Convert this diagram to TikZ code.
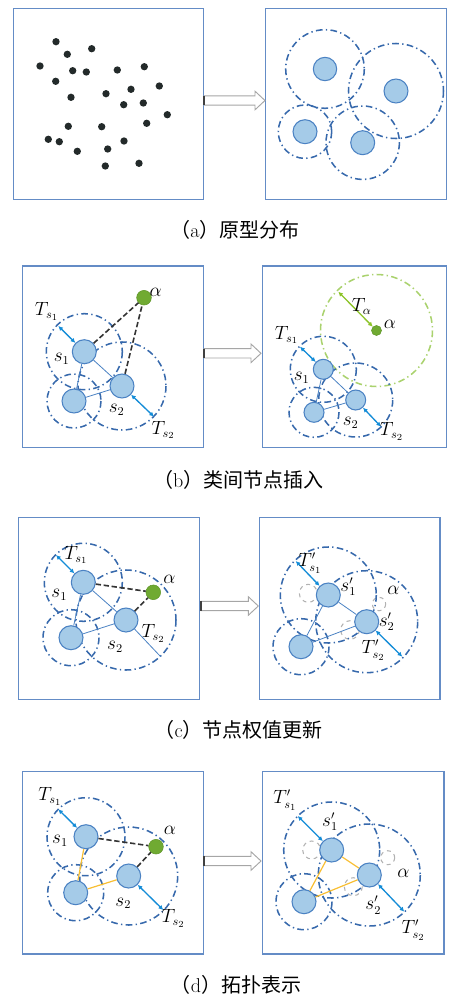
\documentclass[tikz,border=0pt]{standalone}
\usepackage{fontspec}
\usetikzlibrary{arrows.meta}
\newfontfamily\cjk{Noto Sans CJK SC}
\definecolor{boxc}{RGB}{100,140,198}
\definecolor{ddc}{RGB}{55,105,172}
\definecolor{nodef}{RGB}{165,203,232}
\definecolor{nodeb}{RGB}{75,130,195}
\definecolor{tblue}{RGB}{20,140,215}
\definecolor{greenf}{RGB}{112,170,50}
\definecolor{greenb}{RGB}{95,150,40}
\definecolor{garr}{RGB}{140,195,40}
\definecolor{gcirc}{RGB}{170,210,110}
\definecolor{yel}{RGB}{248,190,50}
\definecolor{dotc}{RGB}{35,42,42}
\pgfdeclarelayer{bg}
\pgfsetlayers{bg,main}
\newcommand\panarrow[3]{%
  \draw[gray!70, fill=white, line width=0.7pt] (#1,#3-4.7) -- (#2-10,#3-4.7) -- (#2-10,#3-9.3) -- (#2,#3) -- (#2-10,#3+9.3) -- (#2-10,#3+4.7) -- (#1,#3+4.7) -- cycle;
  \draw[black!75, line width=1pt] (#1,#3-4.7) -- (#1,#3+4.7);}
\tikzset{
  frame/.style={draw=boxc, line width=0.9pt},
  dd/.style={draw=ddc, line width=1.15pt, dash pattern=on 5pt off 2.5pt on 1pt off 2.5pt},
  gdd/.style={draw=gcirc, line width=1.15pt, dash pattern=on 5pt off 2.5pt on 1pt off 2.5pt},
  snode/.style={circle, draw=nodeb, fill=nodef, line width=0.8pt, inner sep=0pt, minimum size=18pt},
  ssnode/.style={snode, minimum size=15pt},
  gnode/.style={circle, fill=greenf, draw=greenb, line width=0.4pt, inner sep=0pt, minimum size=11pt},
  sgnode/.style={gnode, minimum size=7.5pt},
  dot/.style={circle, fill=dotc, inner sep=0pt, minimum size=5.5pt},
  tarr/.style={draw=tblue, line width=1pt, {Latex[length=3.5pt,width=3.5pt]}-{Latex[length=3.5pt,width=3.5pt]}},
  garrow/.style={draw=garr, line width=1pt, {Latex[length=3.5pt,width=3.5pt]}-{Latex[length=3.5pt,width=3.5pt]}},
  bdash/.style={draw=black!80, line width=1.2pt, dash pattern=on 4pt off 2pt},
  bline/.style={draw=nodeb, line width=0.6pt},
  yline/.style={draw=yel, line width=0.9pt},
  gdash/.style={draw=gray!60, dashed, line width=0.8pt},
  lbl/.style={inner sep=0pt, font=\fontsize{13.5}{15}\selectfont},
  captxt/.style={inner sep=0pt, font=\fontsize{15}{18}\selectfont},
}
\begin{document}
\begin{tikzpicture}[x=0.75pt, y=-0.75pt]
\useasboundingbox (0,0) rectangle (449,1003);
% ================= (a) =================
\draw[frame] (13.3,8.3) rectangle (203.3,199.3);
\draw[frame] (265.7,8.3) rectangle (446.5,199.3);
\panarrow{204}{265}{100.5}
\foreach \px/\py [count=\i] in {56/41.7,67.3/54.3,91.7/48.7,40/66,72.7/70.7,86.3/72,117.3/70,144.3/66.7,55.7/81.3,159.3/86,131/89.3,106/93.7,71/97.3,123.7/104.7,143.3/103,167.3/114.7,146.7/123.3,68.3/126.3,101.7/126.7,48.3/139.3,59.3/141.7,124/141,107.7/149,77.3/151.3,105.3/166,139/163.3}
  \node[dot] (p\i) at (\px,\py) {};
\node[snode, minimum size=17.5pt] (a1) at (325,69) {};
\node[snode] (a2) at (396,91) {};
\node[snode] (a3) at (305,131.7) {};
\node[snode] (a4) at (362.7,142.7) {};
\begin{pgfonlayer}{bg}
\draw[dd] (a1) circle[radius=39.3];
\draw[dd] (a2) circle[radius=47.5];
\draw[dd] (a3) circle[radius=26.7];
\draw[dd] (a4) circle[radius=36.7];
\end{pgfonlayer}
\node[captxt] (capa) at (235,230) {{\cjk （}a{\cjk ）原型分布}};
% ================= (b) =================
\draw[frame] (22.3,266) rectangle (203.3,447.3);
\draw[frame] (262.3,266) rectangle (446.7,447.3);
\panarrow{204}{261}{353.3}
\node[snode] (b1) at (84.3,351.7) {};
\node[snode] (b3) at (74,401) {};
\node[snode] (b2) at (122,386) {};
\node[gnode] (ba) at (144,297.7) {};
\coordinate (bt1) at (58.3,326);
\coordinate (bt2) at (154,416.7);
\begin{pgfonlayer}{bg}
\draw[dd] (b1) circle[radius=38];
\draw[dd] (b3) circle[radius=27];
\draw[dd] (b2) circle[radius=44];
\end{pgfonlayer}
\draw[bline] (b1) -- (b3);
\draw[bline] (b1) -- (b2);
\draw[bline] (b3) -- (b2);
\draw[bdash] (b1) -- (ba);
\draw[bdash] (b2) -- (ba);
\draw[tarr] (bt1) -- (b1);
\draw[tarr] (b2) -- (bt2);
\node[lbl] (lb1) at (46.7,311.7) {$T_{s_1}$};
\node[lbl] (lb2) at (61.7,359.3) {$s_1$};
\node[lbl] (lb3) at (116.7,410) {$s_2$};
\node[lbl] (lb4) at (163.3,430) {$T_{s_2}$};
\node[lbl] (lb5) at (155.7,292.7) {$\alpha$};
% right (b)
\node[ssnode] (rb1) at (323.3,369.3) {};
\node[ssnode] (rb3) at (314,412.3) {};
\node[ssnode] (rb2) at (355.7,400) {};
\node[sgnode] (rba) at (376.5,330.5) {};
\coordinate (rbt1) at (300,346.7);
\coordinate (rbt2) at (381,426.7);
\coordinate (rbta) at (338.3,291.7);
\begin{pgfonlayer}{bg}
\draw[gdd] (rba) circle[radius=56];
\draw[dd] (rb1) circle[radius=33];
\draw[dd] (rb3) circle[radius=25];
\draw[dd] (rb2) circle[radius=37];
\end{pgfonlayer}
\draw[bline] (rb1) -- (rb3);
\draw[bline] (rb1) -- (rb2);
\draw[bline] (rb3) -- (rb2);
\draw[tarr] (rbt1) -- (rb1);
\draw[tarr] (rb2) -- (rbt2);
\draw[garrow] (rbta) -- (rba);
\node[lbl] (rlb1) at (286.7,335) {$T_{s_1}$};
\node[lbl] (rlb2) at (301.7,378.3) {$s_1$};
\node[lbl] (rlb3) at (350.7,423.3) {$s_2$};
\node[lbl] (rlb4) at (391.7,431.7) {$T_{s_2}$};
\node[lbl] (rlb5) at (361.7,306.7) {$T_\alpha$};
\node[lbl] (rlb6) at (390,324) {$\alpha$};
\node[captxt] (capb) at (238.3,480) {{\cjk （}b{\cjk ）类间节点插入}};
% ================= (c) =================
\draw[frame] (18.3,517.3) rectangle (199.3,699.3);
\draw[frame] (259.3,517.3) rectangle (440,699.3);
\panarrow{201}{258.3}{606}
\node[snode] (c1) at (83.3,582.3) {};
\node[snode] (c3) at (71,637.7) {};
\node[snode] (c2) at (126,620) {};
\node[gnode] (ca) at (153.3,592.3) {};
\coordinate (ct1) at (56,555);
\coordinate (ct2) at (160.7,656.7);
\begin{pgfonlayer}{bg}
\draw[dd] (c1) circle[radius=39];
\draw[dd] (c3) circle[radius=28];
\draw[dd] (c2) circle[radius=50];
\end{pgfonlayer}
\draw[bline] (c1) -- (c3);
\draw[bline] (c1) -- (c2);
\draw[bline] (c3) -- (c2);
\draw[bline] (c2) -- (ct2);
\draw[bdash] (c1) -- (ca);
\draw[bdash] (c2) -- (ca);
\draw[tarr] (ct1) -- (c1);
\node[lbl] (lc1) at (76,555) {$T_{s_1}$};
\node[lbl] (lc2) at (59.3,595) {$s_1$};
\node[lbl] (lc3) at (169.3,579.3) {$\alpha$};
\node[lbl] (lc4) at (153.3,633.3) {$T_{s_2}$};
\node[lbl] (lc5) at (115,646.7) {$s_2$};
% right (c)
\node[snode] (rc1) at (328.3,595) {};
\node[snode] (rc3) at (301,646.7) {};
\node[snode] (rc2) at (366.7,621.7) {};
\coordinate (rct1) at (295.7,561);
\coordinate (rct2) at (402.3,656.7);
\begin{pgfonlayer}{bg}
\draw[gdash] (308.3,593.3) circle[radius=9];
\draw[gdash] (379,604) circle[radius=6.7];
\draw[gdash] (350,630) circle[radius=9.3];
\draw[dd] (rc1) circle[radius=48];
\draw[dd] (rc3) circle[radius=28];
\draw[dd] (rc2) circle[radius=51];
\end{pgfonlayer}
\draw[bline] (rc1) -- (rc3);
\draw[bline] (rc1) -- (rc2);
\draw[bline] (rc3) -- (rc2);
\draw[tarr] (rct1) -- (rc1);
\draw[tarr] (rc2) -- (rct2);
\node[lbl] (rlc1) at (310,563.3) {$T'_{s_1}$};
\node[lbl] (rlc2) at (348.3,586.7) {$s'_1$};
\node[lbl] (rlc3) at (393.3,590) {$\alpha$};
\node[lbl] (rlc4) at (386.7,621.7) {$s'_2$};
\node[lbl] (rlc5) at (373.3,650) {$T'_{s_2}$};
\node[captxt] (capc) at (238.8,730) {{\cjk （}c{\cjk ）节点权值更新}};
% ================= (d) =================
\draw[frame] (22.7,771.7) rectangle (203.3,954);
\draw[frame] (262.3,771.7) rectangle (444,954);
\panarrow{204}{261}{861}
\node[snode] (d1) at (86,836.7) {};
\node[snode] (d3) at (75.7,892.7) {};
\node[snode] (d2) at (128.7,876) {};
\node[gnode] (da) at (156,846.7) {};
\coordinate (dt1) at (58.3,809.3);
\coordinate (dt2) at (163.3,910);
\begin{pgfonlayer}{bg}
\draw[dd] (d1) circle[radius=39];
\draw[dd] (d3) circle[radius=28];
\draw[dd] (d2) circle[radius=49];
\end{pgfonlayer}
\draw[yline] (d1) -- (d3);
\draw[yline] (d3) -- (d2);
\draw[bdash] (d1) -- (da);
\draw[bdash] (d2) -- (da);
\draw[tarr] (dt1) -- (d1);
\draw[tarr] (d2) -- (dt2);
\node[lbl] (ld1) at (50,796.7) {$T_{s_1}$};
\node[lbl] (ld2) at (60,840.7) {$s_1$};
\node[lbl] (ld3) at (170,830) {$\alpha$};
\node[lbl] (ld4) at (123.3,903.3) {$s_2$};
\node[lbl] (ld5) at (173.3,918.3) {$T_{s_2}$};
% right (d)
\node[snode] (rd1) at (331.7,850) {};
\node[snode] (rd3) at (304,901.7) {};
\node[snode] (rd2) at (369.3,875) {};
\coordinate (rdt1) at (297.7,816);
\coordinate (rdt2) at (404.3,911.7);
\begin{pgfonlayer}{bg}
\draw[gdash] (311.7,850) circle[radius=9];
\draw[gdash] (387.7,857.7) circle[radius=7];
\draw[gdash] (353.3,886.7) circle[radius=9];
\draw[dd] (rd1) circle[radius=48];
\draw[dd] (rd3) circle[radius=28];
\draw[dd] (rd2) circle[radius=51];
\end{pgfonlayer}
\draw[yline] (rd1) -- (rd2);
\draw[yline] (rd1) -- (rd3);
\draw[yline] (rd3) -- (rd2);
\draw[tarr] (rdt1) -- (rd1);
\draw[tarr] (rd2) -- (rdt2);
\node[lbl] (rld1) at (285,800) {$T'_{s_1}$};
\node[lbl] (rld2) at (330,821.7) {$s'_1$};
\node[lbl] (rld3) at (403.3,873.3) {$\alpha$};
\node[lbl] (rld4) at (373.3,905) {$s'_2$};
\node[lbl] (rld5) at (413.3,930) {$T'_{s_2}$};
\node[captxt] (capd) at (236,985) {{\cjk （}d{\cjk ）拓扑表示}};
\end{tikzpicture}
\end{document}
